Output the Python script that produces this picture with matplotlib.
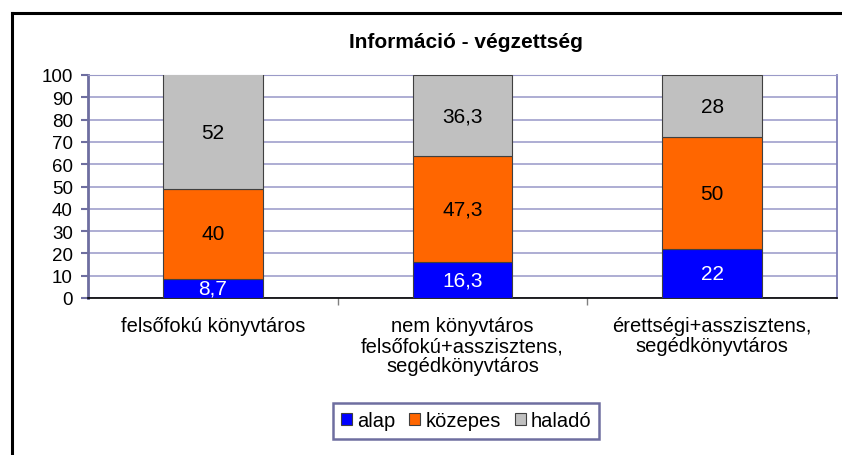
"""
Stacked bar chart: Információ - végzettség
"""
import matplotlib
matplotlib.use("Agg")
import matplotlib.pyplot as plt
from matplotlib.lines import Line2D
import numpy as np

plt.rcParams["font.family"] = ["Liberation Sans", "DejaVu Sans"]

# Data
categories = [
    "felsőfokú könyvtáros",
    "nem könyvtáros\nfelsőfokú+asszisztens,\nsegédkönyvtáros",
    "érettségi+asszisztens,\nsegédkönyvtáros",
]
series_names = ["alap", "közepes", "haladó"]
alap = [8.7, 16.3, 22]
kozepes = [40, 47.3, 50]
halado = [52, 36.3, 28]
colors = ["#0000FF", "#FF6600", "#C0C0C0"]
label_colors = ["white", "black", "black"]
yticks = list(range(0, 101, 10))

fig = plt.figure(figsize=(8.42, 4.56), dpi=100)
ax = fig.add_axes([88 / 842, 1 - 299 / 456, (837 - 88) / 842, (299 - 76) / 456])

x = np.arange(len(categories))
bottom = np.zeros(len(categories))
for vals, name, col, lc in zip([alap, kozepes, halado], series_names, colors, label_colors):
    bars = ax.bar(x, vals, width=0.4, bottom=bottom, color=col,
                  edgecolor="#404040", linewidth=0.8, label=name, zorder=3)
    ax.bar_label(bars, labels=[f"{v:g}".replace(".", ",") for v in vals],
                 label_type="center", color=lc, fontsize=15)
    bottom += np.array(vals)

ax.set_xlim(-0.5, 2.5)
ax.set_ylim(0, 100)
ax.set_yticks(yticks)
ax.tick_params(axis="y", labelsize=13.5, length=5, color="#6E6EA0", width=1.5, pad=6)
ax.yaxis.grid(True, color="#A0A0CC", linewidth=1.2, zorder=0)
ax.set_axisbelow(True)

ax.set_xticks(x)
ax.set_xticklabels(categories, fontsize=14.5, linespacing=1.08)
ax.tick_params(axis="x", length=0, pad=13)
ax.set_xticks([0.5, 1.5], minor=True)
ax.tick_params(axis="x", which="minor", length=5, color="#808080", width=1)

ax.spines["left"].set_color("#6E6EA0")
ax.spines["left"].set_linewidth(2)
ax.spines["top"].set_color("#9A9AC8")
ax.spines["right"].set_color("#8080B8")
ax.spines["right"].set_linewidth(1.3)
ax.spines["bottom"].set_color("black")
ax.spines["bottom"].set_linewidth(1.2)

fig.text(466 / 842, 1 - 42 / 456, "Információ - végzettség", ha="center", va="center",
         fontsize=15, fontweight="bold")

leg = fig.legend(loc="center", bbox_to_anchor=(466 / 842, 1 - 422 / 456), ncol=3,
                 fontsize=14.5, handlelength=0.55, handleheight=0.55, handletextpad=0.25,
                 columnspacing=0.7, fancybox=False, framealpha=1, borderpad=0.4,
                 borderaxespad=0)
leg.get_frame().set_edgecolor("#6E6EA0")
leg.get_frame().set_linewidth(1.8)

# Outer chart border (only top and left visible)
fig.add_artist(Line2D([12 / 842, 12 / 842], [0, 1 - 14 / 456], color="black", linewidth=2.2,
                      transform=fig.transFigure))
fig.add_artist(Line2D([12 / 842, 1], [1 - 14 / 456, 1 - 14 / 456], color="black", linewidth=2.2,
                      transform=fig.transFigure))

fig.savefig("out.png", dpi=100)
